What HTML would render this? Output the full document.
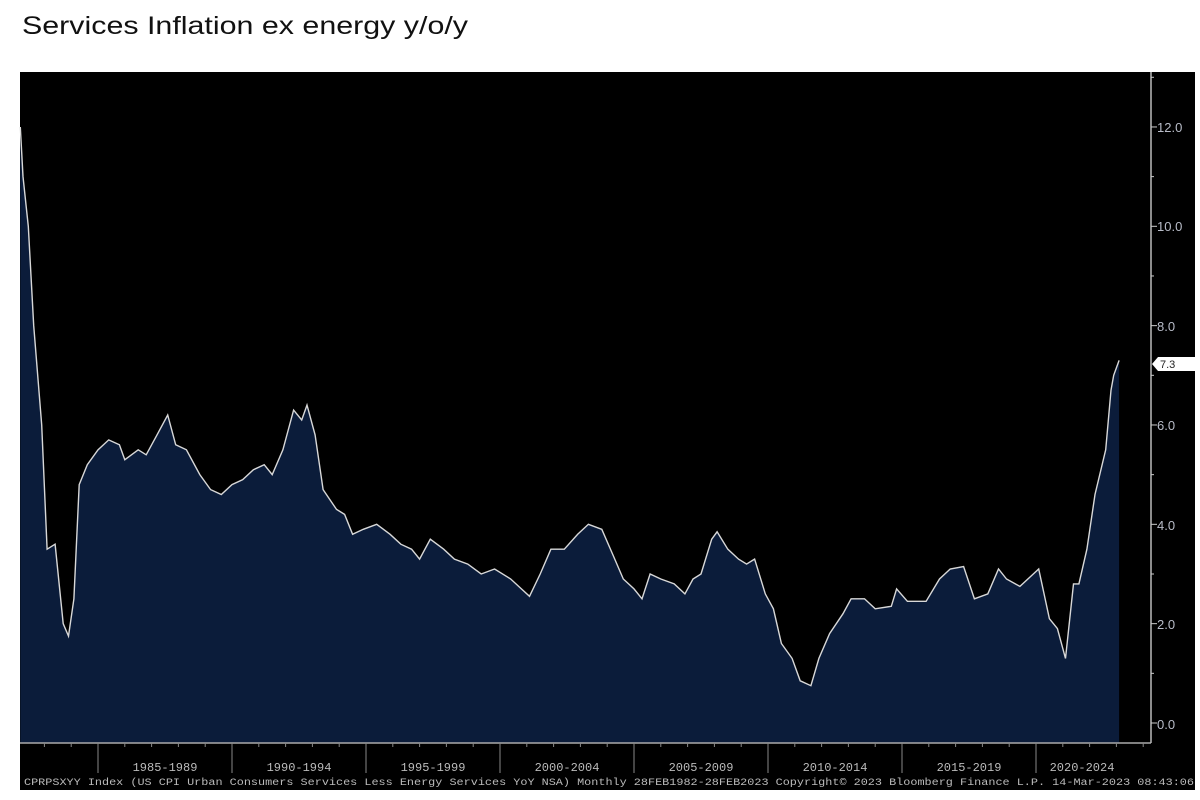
<!DOCTYPE html>
<html><head><meta charset="utf-8"><style>
body{margin:0;background:#fff;width:1200px;height:800px;overflow:hidden;font-family:"Liberation Sans",sans-serif}
</style></head><body>
<svg width="1200" height="800" style="position:absolute;left:0;top:0">
<text x="22" y="34" font-family="Liberation Sans,sans-serif" font-size="25" fill="#111" textLength="446" lengthAdjust="spacingAndGlyphs">Services Inflation ex energy y/o/y</text>
<rect x="20" y="72" width="1175" height="718" fill="#000"/>
<path id="area" fill="#0b1c3a" stroke="none"/>
<path id="line" fill="none" stroke="#d8d8d8" stroke-width="1.4"/>
<line x1="20" y1="743" x2="1151" y2="743" stroke="#aaa" stroke-width="1.5"/>
<line x1="1151" y1="72" x2="1151" y2="743" stroke="#bbb" stroke-width="1.5"/>
<g id="ticks" stroke="#888" stroke-width="1"></g>
<g font-family="Liberation Sans,sans-serif" font-size="13" fill="#b8bcc8">
<text x="1157" y="132">12.0</text><text x="1157" y="231">10.0</text><text x="1157" y="331">8.0</text><text x="1157" y="430">6.0</text><text x="1157" y="530">4.0</text><text x="1157" y="629">2.0</text><text x="1157" y="729">0.0</text>
</g>
<polygon points="1152,364 1158,357 1195,357 1195,371 1158,371" fill="#fff"/>
<text x="1160" y="368" font-size="11" fill="#222" font-family="Liberation Sans,sans-serif">7.3</text>
<g font-family="Liberation Mono,monospace" font-size="12" fill="#bbb" text-anchor="middle">
<text x="165" y="771">1985-1989</text><text x="299" y="771">1990-1994</text><text x="433" y="771">1995-1999</text><text x="567" y="771">2000-2004</text><text x="701" y="771">2005-2009</text><text x="835" y="771">2010-2014</text><text x="969" y="771">2015-2019</text><text x="1082" y="771">2020-2024</text>
</g>
<text x="24" y="785" font-family="Liberation Mono,monospace" font-size="10" fill="#bbb" textLength="1170" lengthAdjust="spacingAndGlyphs">CPRPSXYY Index (US CPI Urban Consumers Services Less Energy Services YoY NSA)  Monthly 28FEB1982-28FEB2023  Copyright© 2023 Bloomberg Finance L.P.  14-Mar-2023 08:43:06</text>
</svg>
<script>
var d=[1982.1,12,1982.2,11,1982.4,10,1982.6,8,1982.9,6,1983.1,3.5,1983.4,3.6,1983.7,2.0,1983.9,1.75,1984.1,2.5,1984.3,4.8,1984.6,5.2,1985.0,5.5,1985.4,5.7,1985.8,5.6,1986.0,5.3,1986.5,5.5,1986.8,5.4,1987.2,5.8,1987.6,6.2,1987.9,5.6,1988.3,5.5,1988.8,5.0,1989.2,4.7,1989.6,4.6,1990.0,4.8,1990.4,4.9,1990.8,5.1,1991.2,5.2,1991.5,5.0,1991.9,5.5,1992.3,6.3,1992.6,6.1,1992.8,6.4,1993.1,5.8,1993.4,4.7,1993.9,4.3,1994.2,4.2,1994.5,3.8,1994.9,3.9,1995.4,4.0,1995.9,3.8,1996.3,3.6,1996.7,3.5,1997.0,3.3,1997.4,3.7,1997.9,3.5,1998.3,3.3,1998.8,3.2,1999.3,3.0,1999.8,3.1,2000.4,2.9,2000.8,2.7,2001.1,2.55,2001.5,3.0,2001.9,3.5,2002.4,3.5,2002.9,3.8,2003.3,4.0,2003.8,3.9,2004.2,3.4,2004.6,2.9,2005.0,2.7,2005.3,2.5,2005.6,3.0,2006.0,2.9,2006.5,2.8,2006.9,2.6,2007.2,2.9,2007.5,3.0,2007.9,3.7,2008.1,3.85,2008.5,3.5,2008.9,3.3,2009.2,3.2,2009.5,3.3,2009.9,2.6,2010.2,2.3,2010.5,1.6,2010.9,1.3,2011.2,0.85,2011.6,0.75,2011.9,1.3,2012.3,1.8,2012.8,2.2,2013.1,2.5,2013.6,2.5,2014.0,2.3,2014.6,2.35,2014.8,2.7,2015.2,2.45,2015.9,2.45,2016.4,2.9,2016.8,3.1,2017.3,3.15,2017.7,2.5,2018.2,2.6,2018.6,3.1,2018.9,2.9,2019.4,2.75,2019.9,3.0,2020.1,3.1,2020.5,2.1,2020.8,1.9,2021.1,1.3,2021.4,2.8,2021.6,2.8,2021.9,3.5,2022.2,4.6,2022.6,5.5,2022.8,6.7,2022.9,7.0,2023.1,7.3];
function X(t){return 98+(t-1985)*26.8}function Y(v){return 723-v*49.67}
var p="";for(var i=0;i<d.length;i+=2){p+=(i?"L":"M")+X(d[i]).toFixed(1)+","+Y(d[i+1]).toFixed(1)}
document.getElementById("line").setAttribute("d",p);
document.getElementById("area").setAttribute("d",p+"L"+X(2023.1).toFixed(1)+",743L"+X(1982.1).toFixed(1)+",743Z");
var g=document.getElementById("ticks"),s="";
for(var y=1982;y<=2025;y++){var x=X(y);if(x<20||x>1150)continue;var big=(y%5==0);s+='<line x1="'+x+'" y1="743" x2="'+x+'" y2="'+(big?773:747)+'"/>'}
for(var v=0;v<=13;v++){s+='<line x1="1151" y1="'+Y(v)+'" x2="'+(v%2==0?1157:1154)+'" y2="'+Y(v)+'" stroke="#ccc"/>'}
g.innerHTML=s;
</script>
</body></html>
